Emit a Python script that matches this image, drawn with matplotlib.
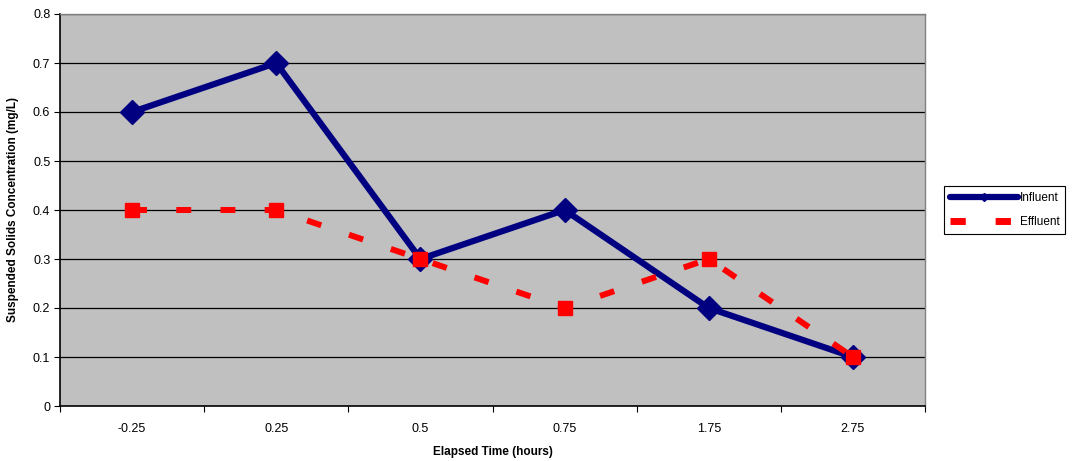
import numpy as np
import matplotlib.pyplot as plt
from matplotlib.lines import Line2D

plt.rcParams['font.family'] = ['Liberation Sans', 'DejaVu Sans']

# Donnees
temps = ['-0.25', '0.25', '0.5', '0.75', '1.75', '2.75']
influent = [0.6, 0.7, 0.3, 0.4, 0.2, 0.1]
effluent = [0.4, 0.4, 0.3, 0.2, 0.3, 0.1]

fig = plt.figure(figsize=(10.73, 4.61), dpi=100)
ax = fig.add_axes([60 / 1073, 55 / 461, 865 / 1073, 392 / 461])
ax.set_facecolor('#c0c0c0')

x = np.arange(len(temps))

# grille horizontale noire
for v in np.arange(0.1, 0.81, 0.1):
    ax.axhline(v, color='black', lw=0.9, zorder=1)

ax.plot(x, influent, color='#000080', lw=4.5, marker='D', ms=12,
        mfc='#000080', mec='#000080', zorder=3, label='Influent')
ax.plot(x, effluent, color='#ff0000', lw=4.3, dashes=(2.5, 4.9), marker='s', ms=10,
        mfc='#ff0000', mec='#ff0000', zorder=4, label='Effluent')

ax.set_xlim(-0.5, len(temps) - 0.5)
ax.set_ylim(0, 0.8)
ax.set_yticks(np.arange(0, 0.81, 0.1))
ax.set_yticklabels(['0', '0.1', '0.2', '0.3', '0.4', '0.5', '0.6', '0.7', '0.8'])

# ticks aux frontieres des categories, etiquettes au centre
ax.set_xticks(np.arange(-0.5, len(temps), 1.0))
ax.set_xticklabels([])
ax.set_xticks(x, minor=True)
ax.set_xticklabels(temps, minor=True)
ax.tick_params(axis='x', which='minor', length=0, pad=12, labelsize=9)
ax.tick_params(axis='x', which='major', length=4, width=0.8, direction='out')
ax.tick_params(axis='y', length=4, width=0.8, direction='out', labelsize=9, pad=3)

for s in ['top', 'right']:
    ax.spines[s].set_color('#808080')
    ax.spines[s].set_linewidth(1)
for s in ['left', 'bottom']:
    ax.spines[s].set_color('black')
    ax.spines[s].set_linewidth(1.2)

ax.set_xlabel('Elapsed Time (hours)', fontsize=8.5, fontweight='bold', labelpad=8)
ax.set_ylabel('Suspended Solids Concentration (mg/L)', fontsize=8.5, fontweight='bold', labelpad=10)

handles = [
    Line2D([], [], color='#000080', lw=4.5, marker='D', ms=4, solid_capstyle='round'),
    Line2D([], [], color='#ff0000', lw=5, dashes=(2.2, 4.3)),
]
leg = fig.legend(handles, ['Influent', 'Effluent'], loc='upper left',
                 bbox_to_anchor=(944 / 1073, 1 - 186 / 461), borderaxespad=0,
                 fontsize=8.5, handlelength=5.8, handletextpad=0.1,
                 labelspacing=1.0, borderpad=0.5, fancybox=False, framealpha=1)
leg.get_frame().set_edgecolor('black')
leg.get_frame().set_linewidth(0.8)

fig.savefig('out.png', dpi=100)
